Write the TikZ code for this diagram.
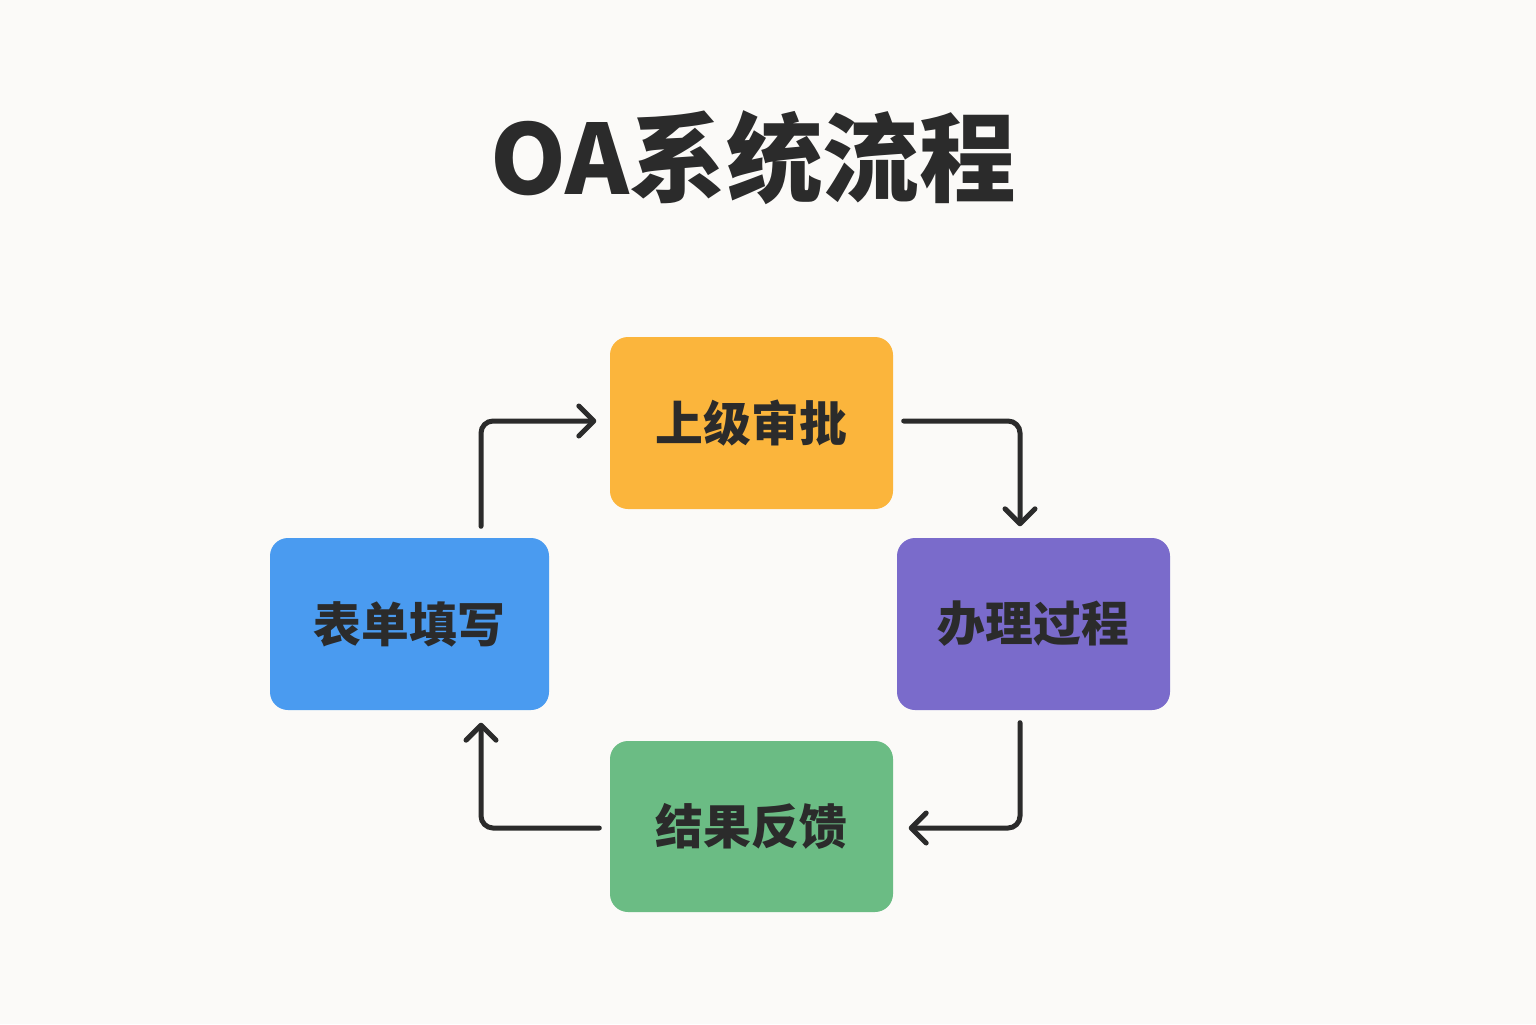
\documentclass[tikz,border=0pt]{standalone}
\usepackage{fontspec}
\usepackage{xcolor}
\usepackage{tikz}
\usetikzlibrary{arrows.meta,positioning}
\newfontfamily\cjk{Noto Sans CJK SC}
\definecolor{paper}{HTML}{FBFAF8}
\definecolor{ink}{HTML}{2B2B2B}
\definecolor{stepblue}{HTML}{4A9BF0}
\definecolor{steporange}{HTML}{FBB53C}
\definecolor{steppurple}{HTML}{7A6BCB}
\definecolor{stepgreen}{HTML}{6BBC84}

\begin{document}
\begin{tikzpicture}[
  stage/.style={rounded corners=0.18cm, align=center, text=ink, minimum width=2.83cm, minimum height=1.72cm,
    font=\cjk\bfseries\fontsize{13.6}{16}\selectfont},
  heading/.style={text=ink, font=\cjk\bfseries\fontsize{27.5}{32}\selectfont},
  flow/.style={-{Straight Barb[length=1.5mm, width=3mm, line cap=round, line join=round]}, line width=0.5mm, draw=ink, rounded corners=0.12cm, line cap=round}
]
\fill[paper] (0,0) rectangle (15.36,10.24);
\useasboundingbox (0,0) rectangle (15.36,10.24);

\node[heading] (title) at (7.535,8.66) {OA系统流程};

\node[stage, fill=steporange] (approve) at (7.515,6.01) {上级审批};
\node[stage, fill=stepblue, minimum width=2.79cm] (fill) at (4.095,4.00) {表单填写};
\node[stage, fill=steppurple, minimum width=2.73cm] (handle) at (10.335,4.00) {办理过程};
\node[stage, fill=stepgreen, minimum height=1.71cm] (feedback) at (7.515,1.975) {结果反馈};

\draw[flow] ([xshift=0.715cm,yshift=0.11cm]fill.north) |- ([xshift=-0.13cm,yshift=0.02cm]approve.west);
\draw[flow] ([xshift=0.1cm,yshift=0.02cm]approve.east) -| ([xshift=-0.135cm,yshift=0.11cm]handle.north);
\draw[flow] ([xshift=-0.135cm,yshift=-0.12cm]handle.south) |- ([xshift=0.15cm,yshift=-0.015cm]feedback.east);
\draw[flow] ([xshift=-0.1cm,yshift=-0.015cm]feedback.west) -| ([xshift=0.715cm,yshift=-0.12cm]fill.south);
\end{tikzpicture}
\end{document}
